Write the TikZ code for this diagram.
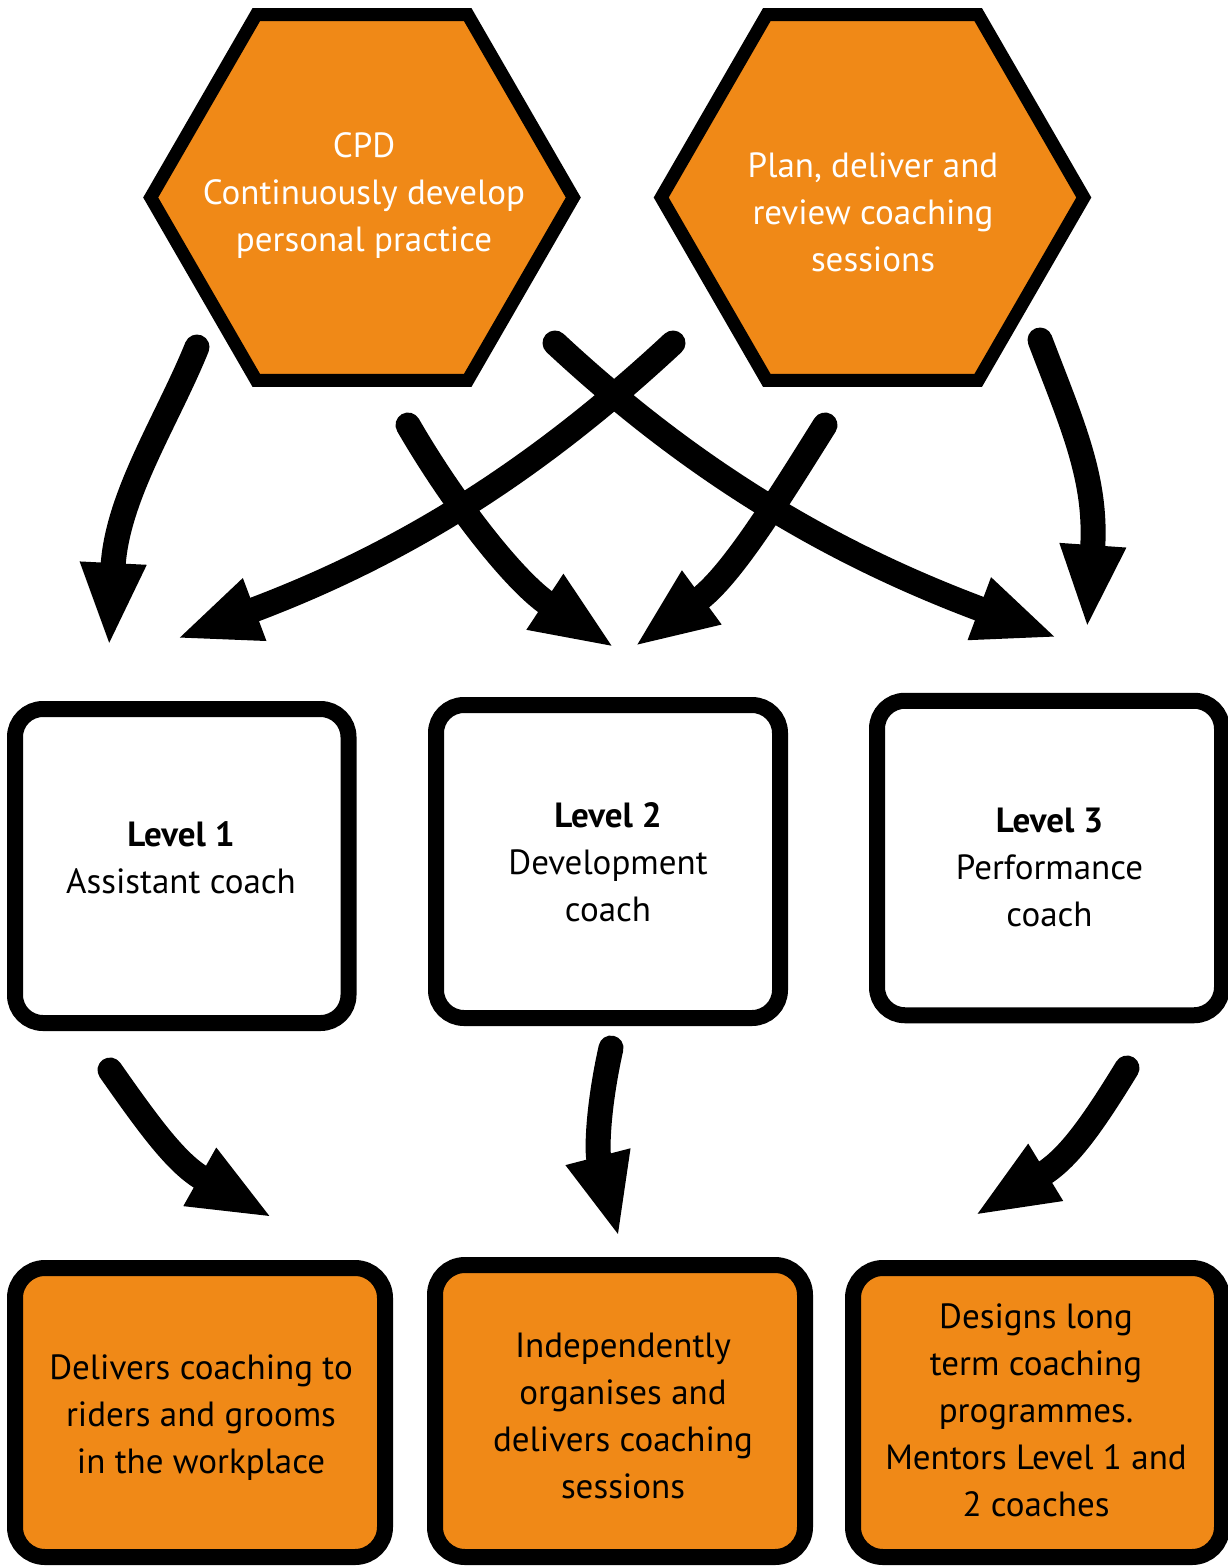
\documentclass[tikz,border=0pt]{standalone}
\usepackage{fontspec}
\setmainfont{PT Sans}
\usetikzlibrary{shapes.geometric,arrows.meta}
\definecolor{bhsorange}{RGB}{240,137,23}
\begin{document}
\begin{tikzpicture}[x=1pt,y=-1pt,
  hexbox/.style={regular polygon, regular polygon sides=6, minimum size=422.6pt,
    inner sep=0pt, draw=black, line width=13pt, fill=bhsorange, line join=miter},
  levelbox/.style={rectangle, rounded corners=28pt, draw=black, line width=16pt,
    fill=white, inner sep=0pt},
  taskbox/.style={rectangle, rounded corners=30pt, draw=black, line width=16pt,
    fill=bhsorange, inner sep=0pt},
  txt/.style={align=center, font=\fontsize{35}{47}\selectfont, inner sep=0pt},
  flow/.style={line width=25pt, line cap=round,
    -{Triangle[length=84pt,width=60pt]}},
]
\useasboundingbox (0,0) rectangle (1227,1566);

% hexagons
\node[hexbox] (hex1) at (362,197.5) {};
\node[hexbox] (hex2) at (872.5,197.5) {};
\node[txt, text=white] (hex1t) at (364,196) {CPD\\Continuously develop\\personal practice};
\node[txt, text=white] (hex2t) at (873,212) {Plan, deliver and\\review coaching\\sessions};

% level boxes
\node[levelbox, minimum width=333.5pt, minimum height=314pt] (lev1) at (181.75,866) {};
\node[levelbox, minimum width=344pt, minimum height=313pt] (lev2) at (608,861.5) {};
\node[levelbox, minimum width=345pt, minimum height=314.5pt] (lev3) at (1049.5,858) {};
\node[txt] (lev1t) at (181,858) {\textbf{Level 1}\\Assistant coach};
\node[txt] (lev2t) at (608,862) {\textbf{Level 2}\\Development\\coach};
\node[txt] (lev3t) at (1049.5,867) {\textbf{Level 3}\\Performance\\coach};

% task boxes
\node[taskbox, minimum width=370pt, minimum height=289pt] (task1) at (200,1412.5) {};
\node[taskbox, minimum width=370pt, minimum height=292pt] (task2) at (620,1411) {};
\node[taskbox, minimum width=369pt, minimum height=289pt] (task3) at (1037.5,1412.5) {};
\node[txt] (task1t) at (201,1418) {Delivers coaching to\\riders and grooms\\in the workplace};
\node[txt] (task2t) at (623,1416) {Independently\\organises and\\delivers coaching\\sessions};
\node[txt] (task3t) at (1036,1410) {Designs long\\term coaching\\programmes.\\Mentors Level 1 and\\2 coaches};

% arrow end points
\coordinate (aS) at (197,347);   \coordinate (aE) at (109,647);
\coordinate (bS) at (673,343);   \coordinate (bE) at (176,639);
\coordinate (cS) at (408,425);   \coordinate (cE) at (615,648);
\coordinate (dS) at (555,343);   \coordinate (dE) at (1058,638);
\coordinate (eS) at (825,425);   \coordinate (eE) at (634,647);
\coordinate (fS) at (1040,340);  \coordinate (fE) at (1087,629);
\coordinate (gS) at (110,1070);  \coordinate (gE) at (273,1218);
\coordinate (hS) at (611,1048);  \coordinate (hE) at (619,1238);
\coordinate (iS) at (1127,1068); \coordinate (iE) at (974,1216);

\draw[flow] (aS) .. controls (167,421) and (116.5,497) .. (aE);
\draw[flow] (bS) .. controls (527,479) and (392,558) .. (bE);
\draw[flow] (cS) .. controls (453,503) and (515,582) .. (cE);
\draw[flow] (dS) .. controls (701,479) and (842,557.5) .. (dE);
\draw[flow] (eS) .. controls (777,501.5) and (731,576) .. (eE);
\draw[flow] (fS) .. controls (1072,424) and (1097.5,479) .. (fE);
\draw[flow] (gS) .. controls (150,1127) and (177,1164) .. (gE);
\draw[flow] (hS) .. controls (598,1106) and (596.5,1151) .. (hE);
\draw[flow] (iS) .. controls (1090.6,1127.5) and (1067.5,1159) .. (iE);
\end{tikzpicture}
\end{document}
